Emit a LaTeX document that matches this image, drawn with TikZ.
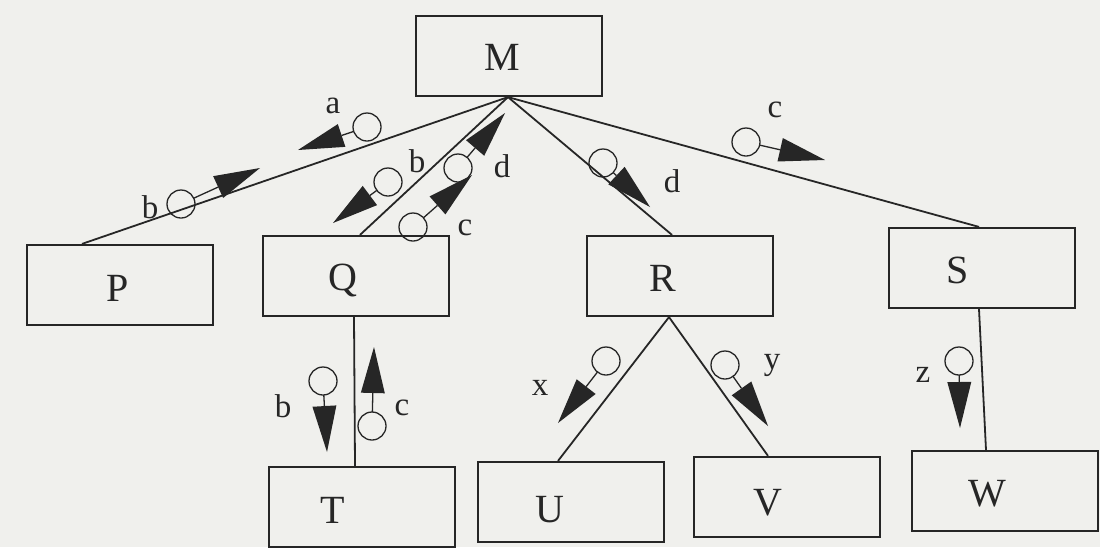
\documentclass[tikz,border=0pt]{standalone}
\usepackage{fontspec}
\setmainfont{Liberation Serif}
\usetikzlibrary{calc}
\definecolor{paper}{RGB}{240,240,237}
\definecolor{ink}{RGB}{38,38,38}
\tikzset{
  box/.style={draw=ink, line width=2.2pt, minimum width=186pt, minimum height=80pt, inner sep=0pt},
  letter/.style={text=ink, font=\fontsize{40}{40}\selectfont, inner sep=0pt},
  flagtext/.style={text=ink, font=\fontsize{33}{33}\selectfont, inner sep=0pt},
  link/.style={draw=ink, line width=1.8pt},
  ring/.style={draw=ink, line width=1.3pt},
}
% data couple: ring at #1, filled arrowhead ending at #2
\newcommand\dataflag[2]{%
  \draw[ring] (#1) circle (14pt);
  \coordinate (fb) at ($(#2)!46pt!(#1)$);
  \draw[ring] ($(#1)!14pt!(#2)$) -- (fb);
  \fill[ink] ($(fb)!12pt!90:(#2)$) -- (#2) -- ($(fb)!12pt!-90:(#2)$) -- cycle;
}
\begin{document}
\begin{tikzpicture}[x=1pt, y=-1pt]
\fill[paper] (0,0) rectangle (1100,547);
\useasboundingbox (0,0) rectangle (1100,547);

% modules
\node[box] (M) at (509,56) {};
\node[box] (P) at (120,285) {};
\node[box] (Q) at (356,276) {};
\node[box] (R) at (680,276) {};
\node[box] (S) at (982,268) {};
\node[box] (T) at (362,507) {};
\node[box] (U) at (571,502) {};
\node[box] (V) at (787,497) {};
\node[box] (W) at (1005,491) {};

\node[letter] (Mt) at (502,57) {M};
\node[letter] (Pt) at (118,288) {P};
\node[letter] (Qt) at (343,280) {Q};
\node[letter] (Rt) at (663,278) {R};
\node[letter] (St) at (958,270) {S};
\node[letter] (Tt) at (333,510) {T};
\node[letter] (Ut) at (550,510) {U};
\node[letter] (Vt) at (768,503) {V};
\node[letter] (Wt) at (987,494) {W};

% calls
\draw[link] ($(M.south)+(-1,0)$) -- ($(P.north)+(-38,0)$);
\draw[link] ($(M.south)+(-1,0)$) -- ($(Q.north)+(4,0)$);
\draw[link] ($(M.south)+(-1,0)$) -- ($(R.north)+(-8,0)$);
\draw[link] ($(M.south)+(-1,0)$) -- ($(S.north)+(-3,0)$);
\draw[link] ($(Q.south)+(-2,0)$) -- ($(T.north)+(-7,0)$);
\draw[link] ($(R.south)+(-11,0)$) -- ($(U.north)+(-13,0)$);
\draw[link] ($(R.south)+(-11,0)$) -- ($(V.north)+(-19,0)$);
\draw[link] ($(S.south)+(-3,0)$) -- ($(W.north)+(-19,0)$);

% data couples
\dataflag{367,127}{298,150}
\dataflag{181,204}{260,168}
\dataflag{388,182}{333,223}
\dataflag{458,168}{505,113}
\dataflag{413,227}{472,175}
\dataflag{603,163}{650,207}
\dataflag{746,142}{825,160}
\dataflag{323,381}{327,452}
\dataflag{372,426}{374,347}
\dataflag{606,361}{558,423}
\dataflag{725,365}{768,426}
\dataflag{959,361}{960,428}

\node[flagtext] (la) at (333,106) {a};
\node[flagtext] (lb1) at (150,207) {b};
\node[flagtext] (lb2) at (417,161) {b};
\node[flagtext] (ld1) at (502,166) {d};
\node[flagtext] (lc1) at (465,228) {c};
\node[flagtext] (ld2) at (672,181) {d};
\node[flagtext] (lc2) at (775,110) {c};
\node[flagtext] (lb3) at (283,406) {b};
\node[flagtext] (lc3) at (402,408) {c};
\node[flagtext] (lx) at (540,388) {x};
\node[flagtext] (ly) at (772,365) {y};
\node[flagtext] (lz) at (923,375) {z};
\end{tikzpicture}
\end{document}
